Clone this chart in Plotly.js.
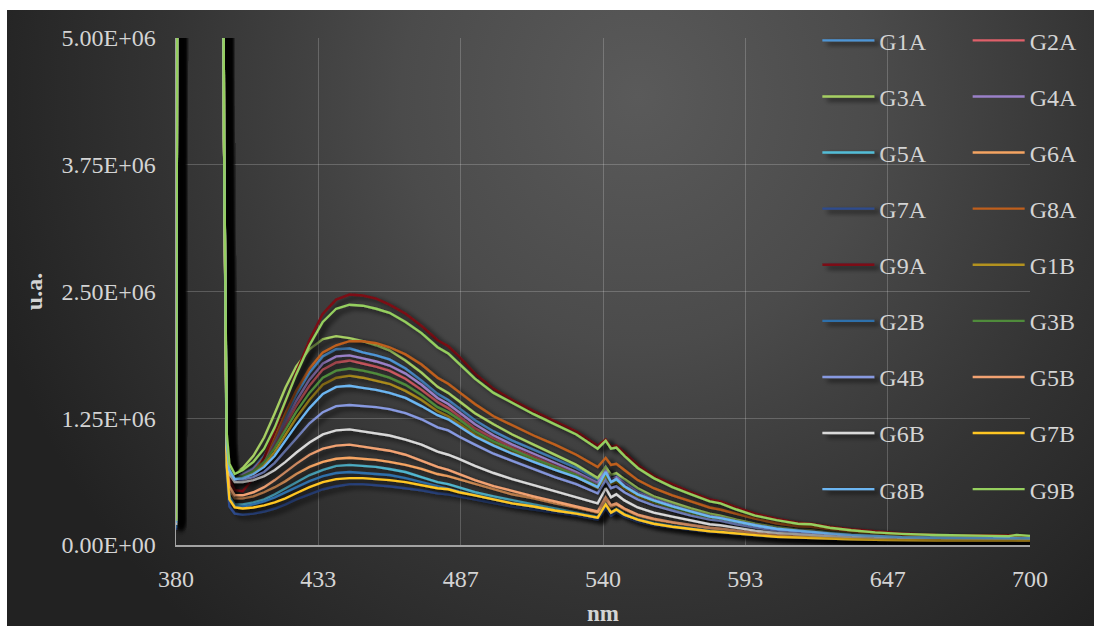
<!DOCTYPE html>
<html>
<head>
<meta charset="utf-8">
<script src="https://cdn.plot.ly/plotly-3.0.1.min.js"></script>
<style>
  html, body { margin: 0; padding: 0; background: #ffffff; }
  #frame {
    position: absolute; left: 7px; top: 10px; width: 1087px; height: 616px;
    background: radial-gradient(ellipse 62% 115% at 58% 14%, #5a5a5a 0%, #4b4b4b 35%, #333333 70%, #222222 100%);
  }
  #chart { position: absolute; left: 0; top: 0; width: 1087px; height: 616px; }
  .scatterlayer .trace { filter: url(#lineshadow); }
  .legend .legendlines { filter: url(#lineshadow); }
</style>
</head>
<body>
<svg width="0" height="0" style="position:absolute">
  <defs>
    <filter id="lineshadow" filterUnits="userSpaceOnUse" x="-1500" y="-1500" width="4000" height="4000">
      <feGaussianBlur in="SourceAlpha" stdDeviation="2.6"/>
      <feOffset dx="4.5" dy="3" result="off"/>
      <feComponentTransfer><feFuncA type="linear" slope="0.85"/></feComponentTransfer>
      <feMerge><feMergeNode/><feMergeNode in="SourceGraphic"/></feMerge>
    </filter>
  </defs>
</svg>
<div id="frame"><div id="chart"></div></div>
<script>
// Emission spectra, intensity in units of 1e6 u.a.
const wavelength = [380, 381, 397, 398, 399, 400, 402, 405, 409, 413, 417, 421, 425, 430, 435, 440,
  445, 450, 455, 460, 466, 472, 478, 482, 486, 492, 499, 506, 514, 522, 530, 538, 541, 543, 545, 548,
  553, 559, 566, 573, 580, 584, 590, 597, 605, 613, 618, 625, 633, 642, 652, 665, 680, 692, 695, 700];

const g1a = [0.18, 12, 12, 4.0, 1.05, 0.78, 0.68, 0.70, 0.76, 0.88, 1.05, 1.27, 1.48, 1.70, 1.86, 1.93,
  1.94, 1.90, 1.87, 1.83, 1.74, 1.62, 1.49, 1.43, 1.35, 1.23, 1.12, 1.03, 0.94, 0.85, 0.76, 0.64, 0.77, 0.68, 0.70, 0.64,
  0.55, 0.47, 0.41, 0.35, 0.30, 0.285, 0.245, 0.205, 0.17, 0.145, 0.14, 0.12, 0.105, 0.09, 0.08, 0.073, 0.07, 0.067, 0.073, 0.068];
const g2a = [0.21, 12, 12, 4.0, 1.05, 0.77, 0.67, 0.69, 0.74, 0.84, 0.99, 1.18, 1.37, 1.57, 1.73, 1.80,
  1.82, 1.79, 1.76, 1.72, 1.64, 1.53, 1.41, 1.35, 1.27, 1.15, 1.05, 0.96, 0.87, 0.78, 0.70, 0.59, 0.71, 0.63, 0.65, 0.59,
  0.51, 0.44, 0.38, 0.32, 0.28, 0.265, 0.225, 0.19, 0.158, 0.137, 0.132, 0.113, 0.098, 0.085, 0.077, 0.071, 0.067, 0.064, 0.069, 0.065];
const g3a = [0.20, 12, 12, 4.0, 1.10, 0.80, 0.70, 0.76, 0.88, 1.06, 1.30, 1.55, 1.76, 1.93, 2.03, 2.06,
  2.04, 2.01, 1.97, 1.92, 1.82, 1.70, 1.56, 1.50, 1.42, 1.30, 1.19, 1.09, 0.99, 0.89, 0.79, 0.66, 0.77, 0.69, 0.71, 0.65,
  0.56, 0.48, 0.42, 0.36, 0.31, 0.29, 0.25, 0.21, 0.175, 0.15, 0.145, 0.125, 0.11, 0.095, 0.085, 0.078, 0.075, 0.072, 0.078, 0.072];
const g4a = [0.20, 12, 12, 4.0, 1.05, 0.77, 0.67, 0.69, 0.75, 0.86, 1.02, 1.22, 1.42, 1.63, 1.79, 1.86,
  1.87, 1.84, 1.81, 1.77, 1.69, 1.58, 1.45, 1.39, 1.31, 1.19, 1.08, 0.99, 0.90, 0.81, 0.72, 0.61, 0.73, 0.65, 0.67, 0.61,
  0.52, 0.45, 0.39, 0.33, 0.285, 0.27, 0.23, 0.195, 0.16, 0.14, 0.135, 0.115, 0.10, 0.087, 0.078, 0.072, 0.068, 0.065, 0.07, 0.066];
const g5a = [0.22, 12, 12, 4.0, 0.80, 0.48, 0.40, 0.40, 0.42, 0.45, 0.50, 0.56, 0.62, 0.69, 0.74, 0.78,
  0.79, 0.78, 0.77, 0.75, 0.72, 0.67, 0.62, 0.60, 0.57, 0.52, 0.48, 0.44, 0.40, 0.36, 0.32, 0.28, 0.41, 0.33, 0.36, 0.31,
  0.26, 0.22, 0.19, 0.165, 0.145, 0.138, 0.12, 0.104, 0.088, 0.078, 0.076, 0.066, 0.059, 0.053, 0.05, 0.047, 0.046, 0.045, 0.048, 0.045];
const g6a = [0.25, 12, 12, 4.0, 0.85, 0.55, 0.46, 0.46, 0.48, 0.52, 0.57, 0.63, 0.70, 0.77, 0.82, 0.85,
  0.86, 0.85, 0.84, 0.82, 0.79, 0.75, 0.70, 0.68, 0.65, 0.60, 0.55, 0.50, 0.46, 0.41, 0.37, 0.32, 0.45, 0.37, 0.40, 0.35,
  0.29, 0.25, 0.22, 0.19, 0.165, 0.156, 0.136, 0.117, 0.098, 0.086, 0.084, 0.073, 0.065, 0.058, 0.054, 0.051, 0.049, 0.048, 0.051, 0.048];
const g7a = [0.15, 12, 12, 4.0, 0.70, 0.38, 0.31, 0.30, 0.31, 0.33, 0.36, 0.40, 0.45, 0.50, 0.55, 0.58,
  0.60, 0.60, 0.59, 0.58, 0.56, 0.54, 0.51, 0.50, 0.48, 0.45, 0.41, 0.38, 0.35, 0.32, 0.29, 0.25, 0.36, 0.29, 0.32, 0.28,
  0.23, 0.195, 0.17, 0.145, 0.125, 0.12, 0.105, 0.09, 0.077, 0.068, 0.067, 0.059, 0.053, 0.048, 0.045, 0.043, 0.042, 0.041, 0.044, 0.041];
const g8a = [0.22, 12, 12, 4.0, 1.00, 0.72, 0.62, 0.64, 0.72, 0.86, 1.06, 1.30, 1.52, 1.74, 1.90, 1.97,
  2.01, 2.01, 1.99, 1.95, 1.88, 1.78, 1.65, 1.59, 1.51, 1.39, 1.27, 1.18, 1.08, 0.99, 0.89, 0.77, 0.86, 0.79, 0.80, 0.74,
  0.64, 0.56, 0.49, 0.43, 0.37, 0.35, 0.31, 0.26, 0.215, 0.185, 0.18, 0.155, 0.135, 0.115, 0.10, 0.09, 0.085, 0.08, 0.086, 0.08];
const g9a = [0.22, 12, 12, 4.0, 1.00, 0.66, 0.54, 0.53, 0.66, 0.86, 1.12, 1.42, 1.70, 2.02, 2.28, 2.42,
  2.47, 2.46, 2.43, 2.37, 2.28, 2.16, 2.02, 1.96, 1.86, 1.69, 1.54, 1.43, 1.32, 1.22, 1.12, 0.98, 1.04, 0.97, 0.98, 0.91,
  0.79, 0.68, 0.60, 0.52, 0.45, 0.43, 0.37, 0.31, 0.26, 0.22, 0.21, 0.18, 0.155, 0.135, 0.115, 0.10, 0.095, 0.09, 0.095, 0.085];
const g1b = [0.19, 12, 12, 4.0, 1.00, 0.74, 0.65, 0.67, 0.71, 0.79, 0.92, 1.08, 1.25, 1.43, 1.58, 1.65,
  1.67, 1.65, 1.62, 1.59, 1.52, 1.43, 1.32, 1.27, 1.20, 1.09, 0.99, 0.91, 0.83, 0.75, 0.67, 0.56, 0.68, 0.60, 0.62, 0.56,
  0.48, 0.42, 0.36, 0.31, 0.265, 0.25, 0.215, 0.18, 0.15, 0.13, 0.126, 0.108, 0.094, 0.082, 0.074, 0.068, 0.064, 0.062, 0.066, 0.062];
const g2b = [0.17, 12, 12, 4.0, 0.80, 0.46, 0.38, 0.38, 0.40, 0.43, 0.47, 0.52, 0.57, 0.63, 0.68, 0.71,
  0.72, 0.71, 0.70, 0.69, 0.66, 0.62, 0.58, 0.56, 0.53, 0.49, 0.45, 0.41, 0.38, 0.34, 0.31, 0.27, 0.39, 0.32, 0.34, 0.30,
  0.25, 0.21, 0.185, 0.16, 0.14, 0.133, 0.116, 0.10, 0.085, 0.075, 0.073, 0.064, 0.057, 0.052, 0.048, 0.046, 0.045, 0.044, 0.047, 0.044];
const g3b = [0.20, 12, 12, 4.0, 1.00, 0.75, 0.66, 0.68, 0.73, 0.82, 0.96, 1.13, 1.31, 1.50, 1.65, 1.72,
  1.74, 1.72, 1.69, 1.65, 1.58, 1.48, 1.36, 1.31, 1.24, 1.12, 1.02, 0.94, 0.85, 0.77, 0.69, 0.58, 0.70, 0.62, 0.64, 0.58,
  0.50, 0.43, 0.37, 0.32, 0.275, 0.26, 0.22, 0.187, 0.155, 0.135, 0.13, 0.11, 0.097, 0.084, 0.076, 0.07, 0.066, 0.063, 0.068, 0.064];
const g4b = [0.20, 12, 12, 4.0, 0.95, 0.72, 0.64, 0.645, 0.67, 0.72, 0.81, 0.93, 1.06, 1.20, 1.31, 1.37,
  1.38, 1.37, 1.36, 1.34, 1.30, 1.24, 1.16, 1.13, 1.07, 0.99, 0.90, 0.83, 0.75, 0.67, 0.60, 0.51, 0.64, 0.56, 0.58, 0.52,
  0.45, 0.39, 0.34, 0.29, 0.25, 0.238, 0.205, 0.172, 0.143, 0.125, 0.12, 0.103, 0.09, 0.079, 0.071, 0.066, 0.063, 0.06, 0.064, 0.06];
const g5b = [0.26, 12, 12, 4.0, 0.90, 0.58, 0.49, 0.49, 0.52, 0.57, 0.64, 0.72, 0.80, 0.89, 0.95, 0.98,
  0.99, 0.97, 0.95, 0.93, 0.89, 0.83, 0.77, 0.74, 0.70, 0.64, 0.58, 0.53, 0.48, 0.43, 0.38, 0.33, 0.47, 0.39, 0.41, 0.36,
  0.30, 0.26, 0.225, 0.195, 0.17, 0.16, 0.14, 0.12, 0.10, 0.088, 0.086, 0.075, 0.067, 0.06, 0.055, 0.052, 0.05, 0.049, 0.052, 0.049];
const g6b = [0.20, 12, 12, 4.0, 0.95, 0.70, 0.62, 0.62, 0.64, 0.68, 0.74, 0.82, 0.91, 1.01, 1.09, 1.13,
  1.14, 1.12, 1.10, 1.08, 1.04, 0.99, 0.92, 0.89, 0.85, 0.78, 0.71, 0.65, 0.59, 0.53, 0.47, 0.41, 0.56, 0.47, 0.50, 0.44,
  0.37, 0.32, 0.28, 0.24, 0.205, 0.195, 0.168, 0.142, 0.12, 0.105, 0.10, 0.088, 0.078, 0.069, 0.063, 0.059, 0.057, 0.055, 0.059, 0.055];
const g7b = [0.24, 12, 12, 4.0, 0.78, 0.45, 0.37, 0.36, 0.37, 0.39, 0.42, 0.46, 0.51, 0.57, 0.62, 0.65,
  0.66, 0.66, 0.65, 0.64, 0.62, 0.59, 0.56, 0.55, 0.52, 0.49, 0.45, 0.41, 0.38, 0.34, 0.31, 0.27, 0.40, 0.32, 0.35, 0.30,
  0.25, 0.21, 0.18, 0.155, 0.135, 0.128, 0.112, 0.097, 0.082, 0.073, 0.071, 0.062, 0.056, 0.051, 0.047, 0.045, 0.044, 0.043, 0.046, 0.043];
const g8b = [0.22, 12, 12, 4.0, 1.00, 0.74, 0.65, 0.66, 0.70, 0.77, 0.88, 1.03, 1.18, 1.35, 1.49, 1.56,
  1.57, 1.55, 1.53, 1.50, 1.45, 1.37, 1.28, 1.24, 1.17, 1.07, 0.98, 0.90, 0.82, 0.74, 0.67, 0.57, 0.72, 0.62, 0.65, 0.58,
  0.50, 0.44, 0.38, 0.33, 0.28, 0.265, 0.23, 0.195, 0.16, 0.14, 0.135, 0.115, 0.10, 0.087, 0.078, 0.072, 0.068, 0.065, 0.07, 0.066];
const g9b = [0.24, 12, 12, 4.0, 1.10, 0.80, 0.70, 0.74, 0.82, 0.95, 1.16, 1.42, 1.68, 1.97, 2.20, 2.33,
  2.37, 2.36, 2.33, 2.29, 2.20, 2.09, 1.95, 1.89, 1.79, 1.64, 1.50, 1.40, 1.29, 1.19, 1.09, 0.95, 1.03, 0.95, 0.96, 0.88,
  0.76, 0.66, 0.57, 0.50, 0.43, 0.41, 0.35, 0.29, 0.245, 0.21, 0.205, 0.17, 0.145, 0.125, 0.11, 0.098, 0.093, 0.088, 0.098, 0.09];

const seriesNames = ['G1A', 'G2A', 'G3A', 'G4A', 'G5A', 'G6A', 'G7A', 'G8A', 'G9A',
                     'G1B', 'G2B', 'G3B', 'G4B', 'G5B', 'G6B', 'G7B', 'G8B', 'G9B'];
const seriesValues = [g1a, g2a, g3a, g4a, g5a, g6a, g7a, g8a, g9a,
                      g1b, g2b, g3b, g4b, g5b, g6b, g7b, g8b, g9b];
const seriesColors = ['#4e95d6', '#e0606a', '#a6cf62', '#9a80c8', '#52bcd6', '#f5a462', '#2d4b8e', '#bf5f1c', '#7c0c12',
                      '#b3921f', '#2f6fab', '#4f8b3b', '#8799e0', '#f2a272', '#d9d9d9', '#ffc623', '#6cb6f2', '#95cf5e'];

const yTickVals = [0, 1.25e6, 2.5e6, 3.75e6, 5e6];
const yTickText = ['0.00E+00', '1.25E+06', '2.50E+06', '3.75E+06', '5.00E+06'];

const serif = '"Liberation Serif", "Times New Roman", serif';
const textColor = '#d4d4d4';

const traces = seriesNames.map((name, i) => ({
  type: 'scatter',
  mode: 'lines',
  name: name,
  x: wavelength,
  y: seriesValues[i].map(v => v * 1e6),
  line: { color: seriesColors[i], width: 2.4 },
  legend: i % 2 === 0 ? 'legend' : 'legend2',
  legendgroup: name,
  hoverinfo: 'x+y+name'
}));

const legendBase = {
  orientation: 'v',
  traceorder: 'grouped',
  tracegroupgap: 21.9,
  bgcolor: 'rgba(0,0,0,0)',
  borderwidth: 0,
  font: { family: serif, size: 24, color: textColor },
  itemwidth: 52,
  maxheight: 600,
  xanchor: 'left',
  yanchor: 'top',
  yref: 'paper',
  xref: 'paper'
};

const layout = {
  width: 1087,
  height: 616,
  margin: { l: 169, r: 64, t: 28, b: 81, autoexpand: false },
  paper_bgcolor: 'rgba(0,0,0,0)',
  plot_bgcolor: 'rgba(0,0,0,0)',
  showlegend: true,
  legend: Object.assign({}, legendBase, { x: 0.751, y: 1.039 }),
  legend2: Object.assign({}, legendBase, { x: 0.927, y: 1.039 }),
  xaxis: {
    range: [380, 700],
    tickmode: 'linear',
    tick0: 380,
    dtick: 160 / 3,
    tickformat: '.0f',
    showgrid: true,
    gridcolor: 'rgba(255,255,255,0.2)',
    gridwidth: 1,
    zeroline: false,
    showline: true,
    linecolor: '#a3a3a3',
    linewidth: 1.5,
    ticks: '',
    ticklabelstandoff: 12,
    tickfont: { family: serif, size: 24, color: textColor },
    title: { text: '<b>nm</b>', font: { family: serif, size: 23, color: textColor }, standoff: 15 }
  },
  yaxis: {
    range: [0, 5e6],
    tickmode: 'array',
    tickvals: yTickVals,
    ticktext: yTickText,
    showgrid: true,
    gridcolor: 'rgba(255,255,255,0.2)',
    gridwidth: 1,
    zeroline: false,
    showline: true,
    linecolor: '#a3a3a3',
    linewidth: 1.5,
    ticks: '',
    ticklabelstandoff: 14,
    tickfont: { family: serif, size: 24, color: textColor },
    title: { text: '<b>u.a.</b>', font: { family: serif, size: 24, color: textColor }, standoff: 12 }
  }
};

Plotly.newPlot('chart', traces, layout, { displayModeBar: false, staticPlot: true });
</script>
</body>
</html>
